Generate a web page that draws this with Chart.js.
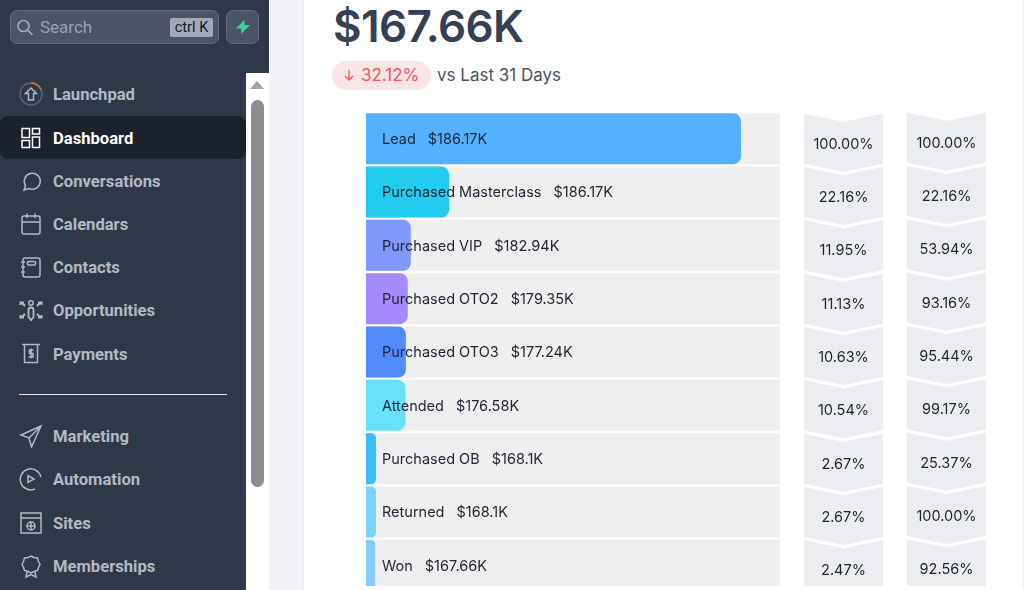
<!DOCTYPE html>
<html>
<head>
<meta charset="utf-8">
<title>Funnel</title>
<script src="https://cdn.jsdelivr.net/npm/chart.js@4"></script>
<style>
    html, body { margin: 0; padding: 0; width: 1024px; height: 590px; overflow: hidden; background: #f3f4fa; font-family: Inter, sans-serif; }
    .abs { position: absolute; }
    #side { left: 0; top: 0; width: 246px; height: 590px; background: #2e3849; }
    #sideTop { left: 246px; top: 0; width: 23px; height: 73px; background: #2e3849; }
    #track { left: 246px; top: 73px; width: 23px; height: 517px; background: #fff; }
    #thumb { left: 251px; top: 100px; width: 13px; height: 387px; background: #8d8d8d; border-radius: 7px; }
    #arrow { left: 250px; top: 81px; width: 0; height: 0; border-left: 7px solid transparent; border-right: 7px solid transparent; border-bottom: 8px solid #a3a3a3; }
    #search { left: 10px; top: 10px; width: 207px; height: 32px; background: #4b5565; border: 1px solid #5f6b7b; border-radius: 7px; }
    #searchText { left: 40px; top: 17px; font: 17px/21px Roboto, sans-serif; color: #98a2b3; }
    #chip { left: 170px; top: 18px; width: 43px; height: 19px; background: #a3a9b6; border-radius: 2px; font: 14.5px/19px Roboto, sans-serif; color: #111827; text-align: center; }
    #bolt { left: 226px; top: 10px; width: 31px; height: 32px; background: #4b5565; border: 1px solid #5f6b7b; border-radius: 7px; }
    #active { left: 0; top: 116px; width: 246px; height: 43px; background: #1b222e; border-radius: 8px; }
    #rule { left: 19px; top: 394px; width: 208px; height: 1px; background: #e5e7eb; }
    .nav { left: 53px; font: 700 16.6px/20px Roboto, sans-serif; color: #b4b9c3; white-space: nowrap; }
    .nav.on { color: #fff; }
    .ico { left: 19px; width: 24px; height: 24px; fill: none; stroke: #b4b9c3; stroke-width: 1.5; }
    #card { left: 303px; top: 0; width: 718px; height: 590px; background: #fff; border-left: 1px solid #eceef3; }
    #total { left: 333px; top: -2px; font: 600 44px/56px Inter, sans-serif; color: #344054; letter-spacing: -0.6px; white-space: nowrap; }
    #badge { left: 332px; top: 61px; width: 99px; height: 29px; background: #f9e5e5; border-radius: 15px; }
    #badgeText { left: 361px; top: 65px; font: 17px/21px Inter, sans-serif; color: #f5565c; }
    #vs { left: 437px; top: 65px; font: 17px/21px Inter, sans-serif; color: #475467; white-space: nowrap; }
    #clip { left: 366px; top: 112px; width: 640px; height: 474px; overflow: hidden; }
    #clip canvas { display: block; }
</style>
</head>
<body>
<div class="abs" id="side"></div>
<div class="abs" id="sideTop"></div>
<div class="abs" id="track"></div>
<div class="abs" id="thumb"></div>
<div class="abs" id="arrow"></div>
<div class="abs" id="card"></div>
<div class="abs" id="search"></div>
<svg class="abs" style="left:16px;top:17px" width="18" height="20" viewBox="0 0 18 20" fill="none" stroke="#a3abb8" stroke-width="1.7"><circle cx="7.5" cy="9" r="5.5"/><path d="M11.5 13l5 5"/></svg>
<div class="abs" id="searchText">Search</div>
<div class="abs" id="chip">ctrl K</div>
<div class="abs" id="bolt"></div>
<svg class="abs" style="left:235px;top:19px" width="16" height="16" viewBox="0 0 16 16"><path d="M9.500 1L1 9.500h5L6 15l9-9h-5.500z" fill="#37d399"/></svg>
<div class="abs" id="active"></div>
<div class="abs" id="rule"></div>
<div id="nav"></div>
<div class="abs" id="total">$167.66K</div>
<div class="abs" id="badge"></div>
<svg class="abs" style="left:342px;top:68px" width="14" height="15" viewBox="0 0 14 15" fill="none" stroke="#f5565c" stroke-width="1.3"><path d="M7 2v10M3 8l4 4 4-4"/></svg>
<div class="abs" id="badgeText">32.12%</div>
<div class="abs" id="vs">vs Last 31 Days</div>
<div class="abs" id="clip"><canvas id="chart" width="640" height="480"></canvas></div>

<script>
const stages = ['Lead', 'Purchased Masterclass', 'Purchased VIP', 'Purchased OTO2', 'Purchased OTO3', 'Attended', 'Purchased OB', 'Returned', 'Won']
const amounts = ['$186.17K', '$186.17K', '$182.94K', '$179.35K', '$177.24K', '$176.58K', '$168.1K', '$168.1K', '$167.66K']
const overallPct = [100.00, 22.16, 11.95, 11.13, 10.63, 10.54, 2.67, 2.67, 2.47]
const stepPct = [100.00, 22.16, 53.94, 93.16, 95.44, 99.17, 25.37, 100.00, 92.56]
const barColors = ['#53b1fd', '#22ccee', '#8098f9', '#a48afb', '#528bff', '#67e3f9', '#36bffa', '#7cd4fd', '#84caff']
const axisMax = 110.4
const trackValues = stages.map(() => axisMax)

const navItems = [
    ['Launchpad', 94, '<circle cx="12" cy="12" r="11" stroke="#5a6473"/><path d="M12 1a11 11 0 0 1 10 6.500" stroke="#c77a3a"/><path d="M12 6l-5.500 5.500H9.500V18h5v-6.500h3z"/>'],
    ['Dashboard', 138, '<g stroke="#fff"><rect x="3" y="2.500" width="7.500" height="9"/><rect x="13.500" y="2.500" width="7" height="5.500"/><rect x="3" y="14.500" width="7.500" height="7"/><rect x="13.500" y="11" width="7" height="10.500"/></g>'],
    ['Conversations', 181, '<path d="M5 21l1.500-4.500A8 8 0 1 1 10 19.500z"/>'],
    ['Calendars', 224, '<rect x="3" y="4" width="18" height="18" rx="2"/><path d="M3 10h18M8 1.500V6M16 1.500V6"/>'],
    ['Contacts', 267, '<rect x="4" y="3" width="17" height="19" rx="2"/><rect x="8.500" y="6.500" width="8" height="3.500" rx="1"/><path d="M2 7h4M2 12h4M2 17h4"/>'],
    ['Opportunities', 310, '<circle cx="12" cy="5" r="2.200"/><path d="M9.500 19v-7a2.500 2.500 0 0 1 5 0v7l-2.500 3z" stroke-width="1.800"/><path stroke-width="2" d="M1.500 4.500h3.500M1.500 3.500v3.500M2 4l4 4M22.500 4.500H19M22.500 3.500v3.500M22 4l-4 4M1.500 19.500h3.500M1.500 20.500V17M2 20l4-4M22.500 19.500H19M22.500 20.500V17M22 20l-4-4"/>'],
    ['Payments', 354, '<path d="M3 2.500h18M5.500 3v17.500h13V3"/><path d="M14.500 8h-4v3.500h3.500V15H9.500M12 6.500v10"/>'],
    ['Marketing', 436, '<path d="M22 2L2 11l8 3 2.500 9zM10 14L22 2"/>'],
    ['Automation', 479, '<path d="M22 10A10.500 10.500 0 1 0 16 22"/><path d="M9 8.500v7l6-3.500z"/>'],
    ['Sites', 523, '<rect x="2" y="2" width="20" height="20"/><path d="M2 7h20"/><circle cx="12" cy="15" r="4"/><path d="M8 15h8M12 11v8"/>'],
    ['Memberships', 566, '<path d="M12 2l3 1.500 3.500.500 1 3.500 1.500 3-1.500 3-1 3-3.500 1-3 1.500-3-1.500-3.500-1-1-3L3 10.500l1.500-3 1-3.500L9 3.500z"/><path d="M8 18l-1 5 5-2.500 5 2.500-1-5"/>']
]

let navHtml = ''
navItems.forEach(([label, y, icon]) => {
    const on = label == 'Dashboard' ? ' on' : ''
    navHtml += `<svg class="abs ico" style="top:${y - 12}px" viewBox="0 0 24 24">${icon}</svg>`
    navHtml += `<div class="abs nav${on}" style="top:${y - 9}px">${label}</div>`
})
document.getElementById('nav').innerHTML = navHtml

// labels and the two chevron columns hang off the chart's own y scale
const funnelExtras = {
    id: 'funnelExtras',
    afterDatasetsDraw(chart) {
        const ctx = chart.ctx
        const yScale = chart.scales.y
        const right = chart.chartArea.right
        const left = chart.chartArea.left
        ctx.save()
        ctx.textBaseline = 'middle'
        stages.forEach((stage, i) => {
            const y = yScale.getPixelForValue(i)
            ctx.fillStyle = '#ecedf1'
            chevron(ctx, right + 24, right + 103, y - 25)
            chevron(ctx, right + 127, right + 206, y - 26)
            ctx.font = '14.5px Inter, sans-serif'
            ctx.fillStyle = '#1d2433'
            ctx.textAlign = 'center'
            ctx.fillText(overallPct[i].toFixed(2) + '%', right + 63.500, y + 5.500)
            ctx.fillText(stepPct[i].toFixed(2) + '%', right + 166.500, y + 4.500)
            ctx.textAlign = 'left'
            ctx.fillText(stage, left + 16, y + 1)
            const width = ctx.measureText(stage).width
            ctx.fillText(amounts[i], left + 16 + width + 12, y + 1)
        })
        ctx.restore()
    }
}

function chevron(ctx, x0, x1, top) {
    const mid = (x0 + x1) / 2
    ctx.beginPath()
    ctx.moveTo(x0, top)
    ctx.lineTo(mid, top + 8)
    ctx.lineTo(x1, top)
    ctx.lineTo(x1, top + 50)
    ctx.lineTo(mid, top + 58)
    ctx.lineTo(x0, top + 50)
    ctx.closePath()
    ctx.fill()
}

new Chart(document.getElementById('chart'), {
    type: 'bar',
    data: {
        labels: stages,
        datasets: [
            {
                data: overallPct,
                backgroundColor: barColors,
                borderRadius: { topRight: 8, bottomRight: 8 },
                borderSkipped: false,
                grouped: false,
                order: 1
            },
            {
                data: trackValues,
                backgroundColor: '#efeff0',
                grouped: false,
                order: 2
            }
        ]
    },
    options: {
        indexAxis: 'y',
        responsive: false,
        animation: false,
        devicePixelRatio: 1,
        categoryPercentage: 1,
        barPercentage: 0.956,
        layout: { padding: { right: 226 } },
        plugins: { legend: { display: false }, tooltip: { enabled: false } },
        scales: {
            x: { display: false, min: 0, max: axisMax },
            y: { display: false }
        }
    },
    plugins: [funnelExtras]
})
</script>
</body>
</html>
